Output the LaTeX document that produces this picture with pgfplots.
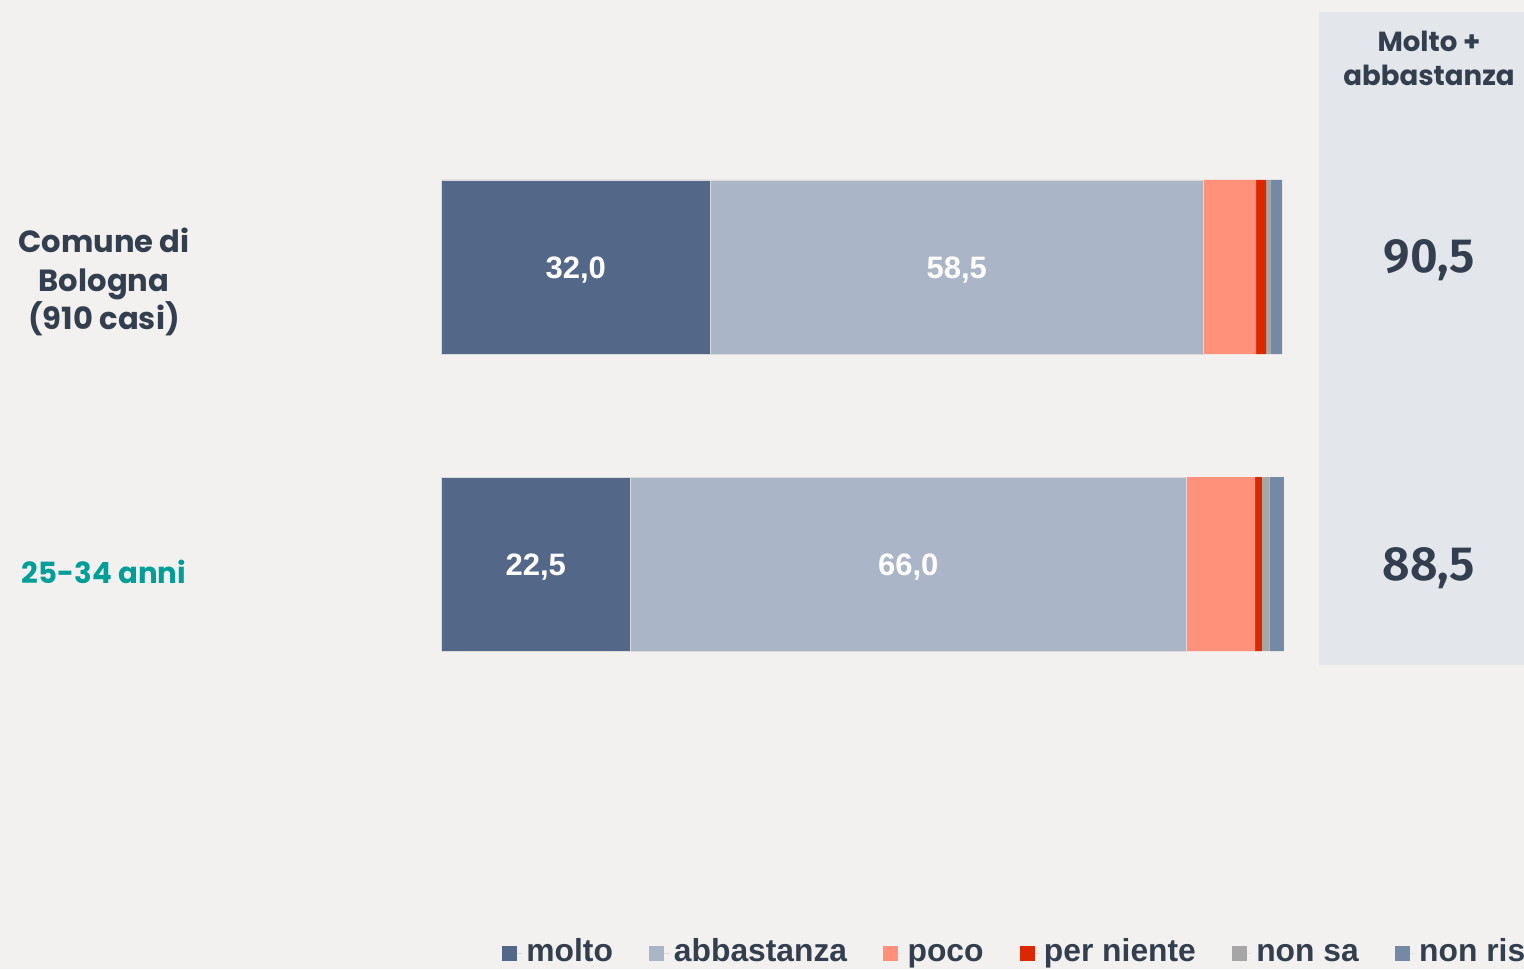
\documentclass[border=0pt]{standalone}
\usepackage{pgfplots}
\pgfplotsset{compat=1.18}
\usepackage{fontspec}
\setmainfont{Liberation Sans}
\newfontfamily\gothic{Poppins}
\newfontfamily\arialf{Liberation Sans}
\newfontfamily\numf{Fira Sans SemiBold}
\definecolor{bg}{HTML}{F2F1EF}
\definecolor{panel}{HTML}{E3E6EA}
\definecolor{dark}{HTML}{333F4F}
\definecolor{teal}{HTML}{009E99}
\definecolor{molto}{HTML}{536889}
\definecolor{abba}{HTML}{ABB5C8}
\definecolor{poco}{HTML}{FF907A}
\definecolor{perniente}{HTML}{DC2800}
\definecolor{nonsa}{HTML}{A6A6A6}
\definecolor{nonris}{HTML}{7389A6}
\begin{document}
\begin{tikzpicture}[x=0.5pt,y=0.5pt]
\fill[bg] (0,0) rectangle (1524,969);
\useasboundingbox (0,0) rectangle (1524,969);
\fill[panel] (1319,957) rectangle (1524,304);
\node[text=dark, font=\gothic\bfseries\fontsize{13.8}{17}\selectfont] at (1429,928) {Molto +};
\node[text=dark, font=\gothic\bfseries\fontsize{13.8}{17}\selectfont] at (1429,894) {abbastanza};
\node[text=dark, font=\numf\fontsize{24}{28}\selectfont] at (1429,709) {90,5};
\node[text=dark, font=\numf\fontsize{24}{28}\selectfont] at (1429,401) {88,5};
\node[text=dark, font=\gothic\bfseries\fontsize{15.3}{19.25}\selectfont, align=center] at (104,687) {Comune di\\Bologna\\(910 casi)};
\node[text=teal, font=\gothic\bfseries\fontsize{14.6}{19.25}\selectfont] at (104,397) {25-34 anni};
\begin{axis}[
  at={(220.5pt,128.25pt)}, anchor=south west,
  scale only axis, width=421pt, height=297pt,
  xbar stacked, bar width=87pt,
  xmin=0, xmax=100, ymin=-0.5, ymax=1.5,
  hide axis, clip=false,
  legend columns=-1,
  legend image code/.code={\path (0pt,0pt) -- (10pt,0pt);\fill[#1,draw=none] (0pt,-3.75pt) rectangle (7.5pt,3.75pt);},
  legend style={at={(0.0713,-0.405)}, anchor=west, draw=none, fill=none, inner sep=0pt,
    font=\arialf\bfseries\fontsize{15.9}{18}\selectfont, text=dark,
    nodes={inner xsep=2.2pt, inner ysep=0pt, text height=11.5pt, text depth=3.3pt},
    /tikz/every even column/.append style={column sep=15.8pt}},
]
\addplot+[fill=molto, draw=white!85!black, line width=0.3pt] coordinates {(22.5,0) (32.0,1)};
\addlegendentry{molto}
\addplot+[fill=abba, draw=white!85!black, line width=0.3pt] coordinates {(66.0,0) (58.5,1)};
\addlegendentry{abbastanza}
\addplot+[fill=poco, draw=none] coordinates {(8.2,0) (6.3,1)};
\addlegendentry{poco}
\addplot+[fill=perniente, draw=none] coordinates {(0.8,0) (1.2,1)};
\addlegendentry{per niente}
\addplot+[fill=nonsa, draw=none] coordinates {(0.9,0) (0.6,1)};
\addlegendentry{non sa}
\addplot+[fill=nonris, draw=none] coordinates {(1.7,0) (1.3,1)};
\addlegendentry{non ris}
\coordinate (l1) at (axis cs:16,1);
\coordinate (l2) at (axis cs:61.25,1);
\coordinate (l3) at (axis cs:11.25,0);
\coordinate (l4) at (axis cs:55.5,0);
\end{axis}
\begin{scope}[every node/.style={text=white, font=\arialf\bfseries\fontsize{15.5}{18}\selectfont, yshift=-1.5pt}]
\node at (l1) {32,0};
\node at (l2) {58,5};
\node at (l3) {22,5};
\node at (l4) {66,0};
\end{scope}
\end{tikzpicture}
\end{document}
